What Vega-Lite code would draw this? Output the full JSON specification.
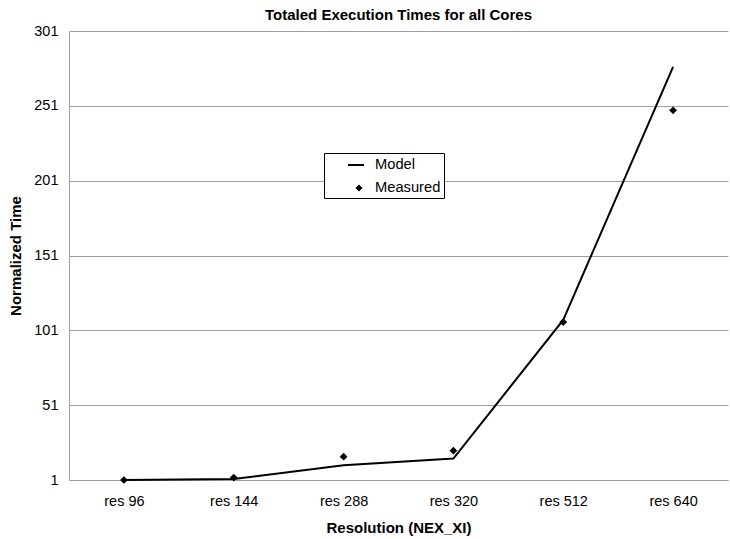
{
  "$schema": "https://vega.github.io/schema/vega-lite/v6.json",
  "width": 659,
  "height": 449,
  "autosize": {"type": "none"},
  "padding": {"left": 69, "top": 31, "right": 2, "bottom": 59},
  "background": "white",
  "title": {
    "text": "Totaled Execution Times for all Cores",
    "font": "Liberation Sans",
    "fontSize": 15,
    "fontWeight": "bold",
    "color": "black",
    "anchor": "middle",
    "offset": 0
  },
  "config": {
    "view": {"stroke": null},
    "font": "Liberation Sans",
    "axis": {
      "labelFont": "Liberation Sans",
      "titleFont": "Liberation Sans",
      "labelColor": "black",
      "titleColor": "black",
      "domainColor": "#a0a0a0",
      "gridColor": "#a0a0a0",
      "ticks": false
    }
  },
  "data": {
    "values": [
      {"res": "res 96", "model": 1, "measured": 1},
      {"res": "res 144", "model": 1.7, "measured": 2.6},
      {"res": "res 288", "model": 10.8, "measured": 16.6},
      {"res": "res 320", "model": 15.3, "measured": 20.6},
      {"res": "res 512", "model": 108, "measured": 106.5},
      {"res": "res 640", "model": 277, "measured": 248}
    ]
  },
  "encoding": {
    "x": {
      "field": "res",
      "type": "nominal",
      "sort": null,
      "scale": {"paddingInner": 0, "paddingOuter": 0},
      "axis": {
        "title": "Resolution (NEX_XI)",
        "labelAngle": 0,
        "labelFontSize": 14.5,
        "labelPadding": 14,
        "titleFontSize": 15,
        "titleFontWeight": "bold",
        "titlePadding": 13,
        "grid": false
      }
    }
  },
  "layer": [
    {
      "mark": {"type": "line", "color": "black", "strokeWidth": 2},
      "encoding": {
        "y": {
          "field": "model",
          "type": "quantitative",
          "scale": {"domain": [1, 301], "nice": false, "zero": false},
          "axis": {
            "title": "Normalized Time",
            "values": [1, 51, 101, 151, 201, 251, 301],
            "labelFontSize": 14.5,
            "labelPadding": 11,
            "titleFontSize": 15,
            "titleFontWeight": "bold",
            "titlePadding": 10,
            "grid": true
          }
        },
        "stroke": {
          "datum": "Model",
          "scale": {"domain": ["Model", "Measured"], "range": ["black", "transparent"]},
          "legend": {
            "title": null,
            "orient": "none",
            "legendX": 255,
            "legendY": 122,
            "strokeColor": "black",
            "fillColor": "white",
            "padding": 3,
            "rowPadding": 7,
            "symbolType": "stroke",
            "symbolSize": 256,
            "symbolStrokeWidth": 2,
            "symbolOffset": 20,
            "labelFont": "Liberation Sans",
            "labelFontSize": 14.7,
            "labelColor": "black",
            "labelOffset": 10
          }
        }
      }
    },
    {
      "mark": {"type": "point", "filled": true, "color": "black", "opacity": 1, "size": 60},
      "encoding": {
        "y": {"field": "measured", "type": "quantitative"},
        "shape": {
          "datum": "Measured",
          "scale": {"domain": ["Measured"], "range": ["diamond"]},
          "legend": {
            "title": null,
            "orient": "none",
            "legendX": 285.5,
            "legendY": 152.5,
            "padding": 0,
            "symbolSize": 50,
            "symbolOffset": 0,
            "symbolFillColor": "black",
            "labelExpr": "''",
            "labelFontSize": 1,
            "labelOffset": 0
          }
        }
      }
    }
  ]
}
